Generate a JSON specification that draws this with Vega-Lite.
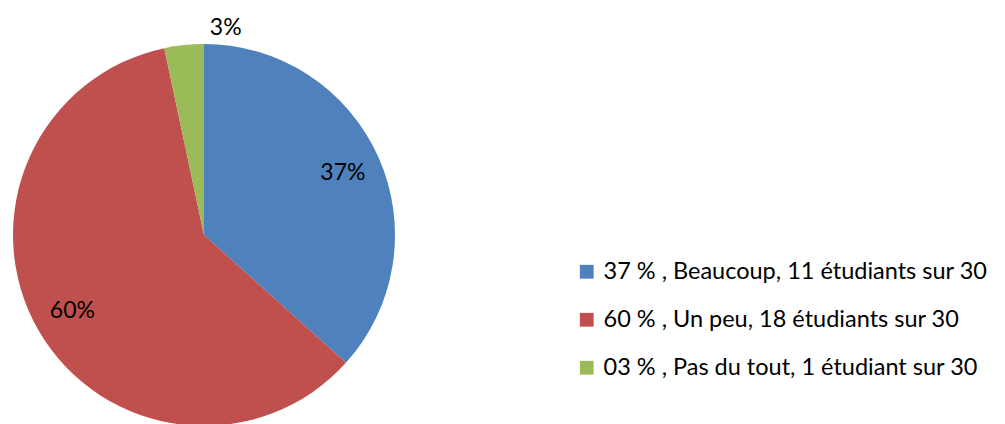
{
  "$schema": "https://vega.github.io/schema/vega-lite/v6.json",
  "width": 382,
  "height": 382,
  "autosize": {"type": "none"},
  "padding": {"left": 13, "top": 44, "right": 610, "bottom": 0},
  "background": "white",
  "view": {"stroke": null},
  "config": {"font": "Lato"},
  "data": {
    "values": [
      {"cat": "37 % , Beaucoup, 11 étudiants sur 30", "n": 11, "pct": "37%", "ord": 1},
      {"cat": "60 % , Un peu, 18 étudiants sur 30", "n": 18, "pct": "60%", "ord": 2},
      {"cat": "03 % , Pas du tout, 1 étudiant sur 30", "n": 1, "pct": "3%", "ord": 3}
    ]
  },
  "encoding": {
    "theta": {"field": "n", "type": "quantitative", "stack": true},
    "order": {"field": "ord", "type": "quantitative"},
    "color": {
      "field": "cat",
      "type": "nominal",
      "sort": null,
      "scale": {
        "domain": ["37 % , Beaucoup, 11 étudiants sur 30", "60 % , Un peu, 18 étudiants sur 30", "03 % , Pas du tout, 1 étudiant sur 30"],
        "range": ["#4F81BD", "#C0504D", "#9BBB59"]
      },
      "legend": {
        "title": null,
        "orient": "none",
        "legendX": 562,
        "legendY": 216,
        "symbolType": "square",
        "symbolSize": 190,
        "symbolStrokeWidth": 0,
        "labelFontSize": 23.5,
        "labelFont": "Lato",
        "labelColor": "#000000",
        "labelLimit": 0,
        "rowPadding": 23,
        "symbolOffset": 0,
        "labelOffset": 5
      }
    }
  },
  "layer": [
    {"mark": {"type": "arc", "outerRadius": 191}},
    {
      "transform": [{"filter": "datum.ord < 3"}],
      "mark": {"type": "text", "radius": 152, "fontSize": 23, "font": "Lato", "color": "#000000"},
      "encoding": {"text": {"field": "pct"}, "color": {"value": "#000000"}}
    },
    {
      "transform": [{"filter": "datum.ord == 3"}],
      "mark": {"type": "text", "radius": 208, "fontSize": 23, "font": "Lato", "color": "#000000"},
      "encoding": {"text": {"field": "pct"}, "color": {"value": "#000000"}}
    }
  ]
}
